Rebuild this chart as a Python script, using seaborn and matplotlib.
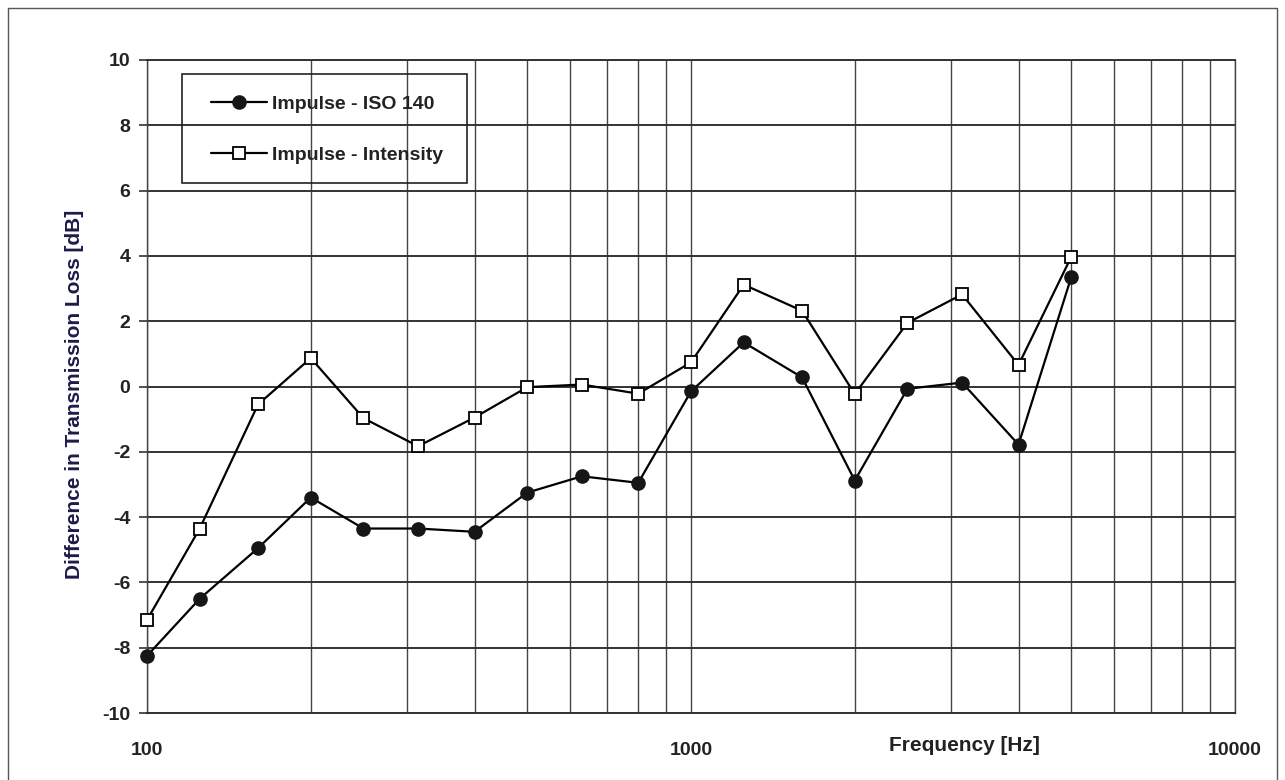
import matplotlib
matplotlib.use("Agg")
import matplotlib.pyplot as plt
from matplotlib.ticker import LogLocator, FixedLocator, NullFormatter, FixedFormatter
from matplotlib.lines import Line2D
from matplotlib.patches import Rectangle
import seaborn as sns
import pandas as pd

freqs = [100, 125, 160, 200, 250, 315, 400, 500, 630, 800,
         1000, 1250, 1600, 2000, 2500, 3150, 4000, 5000]
iso140 = [-8.25, -6.5, -4.95, -3.4, -4.35, -4.35, -4.45, -3.25, -2.75, -2.95,
          -0.15, 1.35, 0.28, -2.88, -0.07, 0.12, -1.78, 3.35]
intensity = [-7.15, -4.35, -0.55, 0.87, -0.97, -1.83, -0.95, -0.02, 0.06, -0.22,
             0.74, 3.12, 2.32, -0.23, 1.95, 2.82, 0.66, 3.97]
series_names = ["Impulse - ISO 140", "Impulse - Intensity"]
x_ticks = [100, 1000, 10000]
x_tick_labels = ["100", "1000", "10000"]
y_ticks = list(range(-10, 11, 2))

sns.set_style("white")
plt.rcParams["font.family"] = ["Liberation Sans", "DejaVu Sans"]

W, H = 1285, 780
fig = plt.figure(figsize=(W / 100, H / 100), dpi=100)
ax = fig.add_axes([147 / W, 1 - 713 / H, (1235 - 147) / W, (713 - 60) / H])

df1 = pd.DataFrame({"freq": freqs, "diff": iso140})
df2 = pd.DataFrame({"freq": freqs, "diff": intensity})

sns.lineplot(data=df1, x="freq", y="diff", ax=ax, color="black", lw=1.6,
             marker="o", markersize=9.5, markerfacecolor="#161616",
             markeredgecolor="#161616", markeredgewidth=1.0,
             label=series_names[0], zorder=4, clip_on=False)
sns.lineplot(data=df2, x="freq", y="diff", ax=ax, color="black", lw=1.6,
             marker="s", markersize=9, markerfacecolor="white",
             markeredgecolor="black", markeredgewidth=1.3,
             label=series_names[1], zorder=5, clip_on=False)

ax.set_xscale("log")
ax.set_xlim(100, 10000)
ax.set_ylim(-10, 10)

ax.xaxis.set_major_locator(FixedLocator(x_ticks))
ax.xaxis.set_major_formatter(FixedFormatter(x_tick_labels))
ax.xaxis.set_minor_locator(LogLocator(base=10, subs=range(2, 10)))
ax.xaxis.set_minor_formatter(NullFormatter())
ax.set_yticks(y_ticks)
ax.set_yticklabels([str(v) for v in y_ticks])

ax.grid(True, which="major", axis="x", color="#444444", lw=1.0)
ax.grid(True, which="minor", axis="x", color="#444444", lw=1.0)
ax.grid(True, which="major", axis="y", color="#333333", lw=1.4)

for s in ax.spines.values():
    s.set_color("#444444")
    s.set_linewidth(1.0)
ax.spines["bottom"].set_linewidth(1.4)
ax.spines["top"].set_linewidth(1.4)
ax.spines["bottom"].set_color("#333333")
ax.spines["top"].set_color("#333333")

ax.tick_params(axis="x", which="both", length=0, pad=21, labelsize=14)
ax.tick_params(axis="y", which="major", length=6, width=1.2, color="#333333",
               direction="out", pad=6, labelsize=14, left=True)

for lab in ax.get_xticklabels() + ax.get_yticklabels():
    lab.set_fontweight("bold")
    lab.set_color("#222222")

ax.set_xlabel("Frequency [Hz]", fontsize=15, fontweight="bold", color="#222222")
ax.xaxis.set_label_coords((964 - 147) / 1088, -(736 - 713) / 653)
ax.set_ylabel("Difference in Transmission Loss [dB]", fontsize=15,
              fontweight="bold", color="#1c1c4a", va="center")
ax.yaxis.set_label_coords((75 - 147) / 1088, (713 - 394) / 653)

leg = ax.legend(loc="upper left", bbox_to_anchor=(211 / W, 1 - 95 / H),
                bbox_transform=fig.transFigure, borderaxespad=0, borderpad=0,
                frameon=False, fontsize=14, handlelength=2.9,
                labelspacing=1.72, handletextpad=0.25)
for t in leg.get_texts():
    t.set_color("#222222")
    t.set_fontweight("bold")

# legend box
fig.add_artist(Rectangle((182 / W, 1 - 183 / H), (467 - 182) / W, (183 - 74) / H,
                         transform=fig.transFigure, facecolor="none",
                         edgecolor="#222222", lw=1.2, zorder=6))

# outer frame
for xs, ys in [([8 / W, 8 / W], [0, 1 - 8 / H]),
               ([8 / W, 1277 / W], [1 - 8 / H, 1 - 8 / H]),
               ([1277 / W, 1277 / W], [1 - 8 / H, 0])]:
    fig.add_artist(Line2D(xs, ys, transform=fig.transFigure, color="#555555", lw=1.0))

fig.savefig("out.png", dpi=100)
